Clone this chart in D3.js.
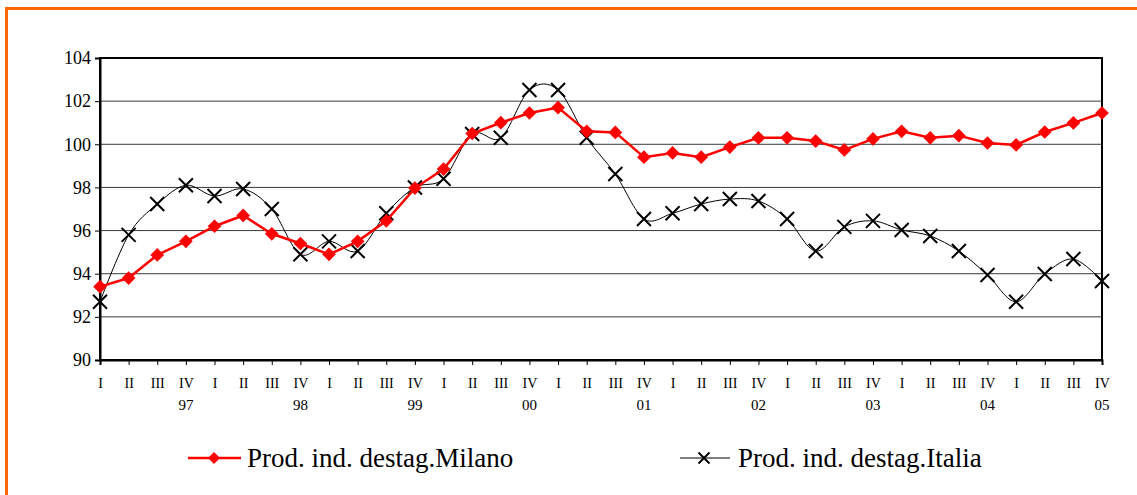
<!DOCTYPE html>
<html>
<head>
<meta charset="UTF-8">
<script src="https://d3js.org/d3.v7.min.js"></script>
</head>
<body style="margin:0">
<svg id="fig" width="1137" height="495"></svg>
<script>
// quarters from I 1997 to IV 2005
const quarters = ["I","II","III","IV"];
const years = ["97","98","99","00","01","02","03","04","05"];
const yTicks = [90, 92, 94, 96, 98, 100, 102, 104];

const milano = [93.4, 93.8, 94.87, 95.5, 96.2, 96.7, 95.85, 95.4,
  94.9, 95.5, 96.45, 97.97, 98.85, 100.5, 101.0, 101.45,
  101.7, 100.6, 100.55, 99.4, 99.6, 99.4, 99.87, 100.3,
  100.3, 100.15, 99.74, 100.25, 100.6, 100.3, 100.4, 100.06,
  99.97, 100.57, 100.99, 101.45];

const italia = [92.7, 95.8, 97.23, 98.1, 97.6, 97.93, 97.0, 94.9,
  95.5, 95.05, 96.8, 98.0, 98.4, 100.48, 100.3, 102.52,
  102.52, 100.3, 98.62, 96.54, 96.8, 97.23, 97.46, 97.37,
  96.54, 95.05, 96.17, 96.45, 96.03, 95.75, 95.05, 93.94,
  92.7, 93.99, 94.68, 93.66];

const legendLabels = ["Prod. ind. destag.Milano", "Prod. ind. destag.Italia"];

const width = 1137, height = 495;
const margin = { left: 100, right: 35, top: 58, bottom: 135 };
const serifFont = "'Liberation Serif', 'Times New Roman', serif";

const svg = d3.select("#fig");

// orange frame (right/bottom edges fall outside the picture)
svg.append("rect")
  .attr("x", 6.5).attr("y", 8.5)
  .attr("width", width + 20).attr("height", height + 20)
  .attr("fill", "none").attr("stroke", "#FF6600").attr("stroke-width", 3);

const idx = d3.range(milano.length);
const x = d3.scaleLinear().domain([0, idx.length - 1]).range([margin.left, width - margin.right]);
const y = d3.scaleLinear().domain([90, 104]).range([height - margin.bottom, margin.top]);

// gridlines
svg.append("g")
  .selectAll("line")
  .data(yTicks.filter(d => d > 90 && d < 104))
  .enter().append("line")
  .attr("x1", x(0)).attr("x2", x(idx.length - 1))
  .attr("y1", d => y(d)).attr("y2", d => y(d))
  .attr("stroke", "#3a3a3a").attr("stroke-width", 1);

// plot frame
svg.append("rect")
  .attr("x", x(0)).attr("y", y(104))
  .attr("width", x(idx.length - 1) - x(0)).attr("height", y(90) - y(104))
  .attr("fill", "none").attr("stroke", "#000").attr("stroke-width", 2);

// y axis
const yAxis = svg.append("g")
  .attr("transform", `translate(${x(0)},0)`)
  .call(d3.axisLeft(y).tickValues(yTicks).tickSize(5).tickPadding(4));
yAxis.select(".domain").attr("stroke-width", 2);
yAxis.selectAll("text").attr("fill", "#000").attr("font-size", 18);

// x axis: quarter labels
const xAxis = svg.append("g")
  .attr("transform", `translate(0,${y(90)})`)
  .call(d3.axisBottom(x).tickValues(idx).tickSize(5).tickPadding(13)
    .tickFormat(i => quarters[i % 4]));
xAxis.select(".domain").attr("stroke-width", 2);
xAxis.selectAll("text").attr("fill", "#000").attr("font-size", 14);

// year labels under IV
svg.append("g")
  .selectAll("text")
  .data(years)
  .enter().append("text")
  .attr("x", (d, i) => x(i * 4 + 3))
  .attr("y", y(90) + 50)
  .attr("text-anchor", "middle")
  .attr("font-size", 15)
  .text(d => d);

// Italia smoothed line
const smooth = d3.line().x((d, i) => x(i)).y(d => y(d)).curve(d3.curveCatmullRom.alpha(0));
svg.append("path")
  .datum(italia)
  .attr("d", smooth)
  .attr("fill", "none").attr("stroke", "#000").attr("stroke-width", 1);

const crossPath = s => `M${-s},${-s}L${s},${s}M${-s},${s}L${s},${-s}`;
svg.append("g")
  .selectAll("path")
  .data(italia)
  .enter().append("path")
  .attr("transform", (d, i) => `translate(${x(i)},${y(d)})`)
  .attr("d", crossPath(7))
  .attr("stroke", "#000").attr("stroke-width", 2).attr("fill", "none");

// Milano line
const straight = d3.line().x((d, i) => x(i)).y(d => y(d));
svg.append("path")
  .datum(milano)
  .attr("d", straight)
  .attr("fill", "none").attr("stroke", "#FF0000").attr("stroke-width", 2.5);

const diamond = d3.symbol().type(d3.symbolDiamond2).size(120);
svg.append("g")
  .selectAll("path")
  .data(milano)
  .enter().append("path")
  .attr("transform", (d, i) => `translate(${x(i)},${y(d)})`)
  .attr("d", diamond)
  .attr("fill", "#FF0000");

// legend
const legY = 458;
svg.append("line").attr("x1", 188).attr("x2", 241).attr("y1", legY).attr("y2", legY)
  .attr("stroke", "#FF0000").attr("stroke-width", 2.5);
svg.append("path").attr("transform", `translate(214,${legY})`)
  .attr("d", d3.symbol().type(d3.symbolDiamond2).size(90)).attr("fill", "#FF0000");
svg.append("text").attr("x", 247).attr("y", legY + 9).attr("font-size", 27)
  .text(legendLabels[0]);

svg.append("line").attr("x1", 680).attr("x2", 730).attr("y1", legY).attr("y2", legY)
  .attr("stroke", "#000").attr("stroke-width", 1);
svg.append("path").attr("transform", `translate(704,${legY})`)
  .attr("d", crossPath(5.5)).attr("stroke", "#000").attr("stroke-width", 2);
svg.append("text").attr("x", 738).attr("y", legY + 9).attr("font-size", 27)
  .text(legendLabels[1]);

// force the serif face on every label
svg.selectAll("text").style("font-family", serifFont, "important");
</script>
</body>
</html>
